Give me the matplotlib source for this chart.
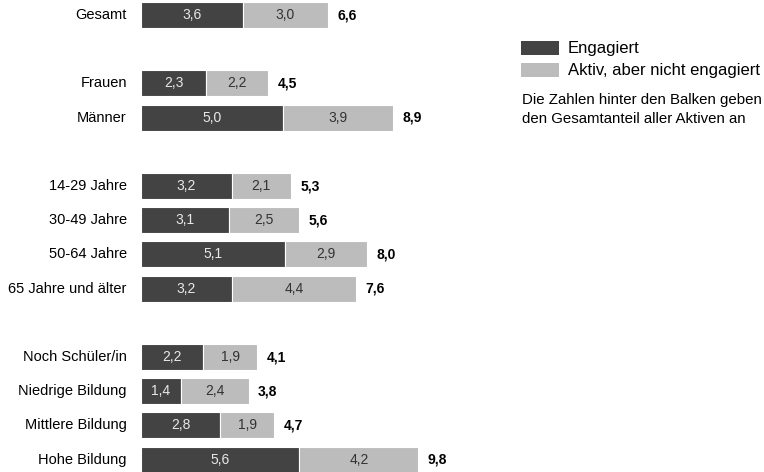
import matplotlib
matplotlib.use("Agg")
import matplotlib.pyplot as plt
from matplotlib.patches import Rectangle

plt.rcParams['font.family'] = ['Liberation Sans', 'DejaVu Sans']

categories = ["Gesamt", "Frauen", "Männer", "14-29 Jahre", "30-49 Jahre", "50-64 Jahre",
              "65 Jahre und älter", "Noch Schüler/in", "Niedrige Bildung",
              "Mittlere Bildung", "Hohe Bildung"]
engagiert = [3.6, 2.3, 5.0, 3.2, 3.1, 5.1, 3.2, 2.2, 1.4, 2.8, 5.6]
aktiv = [3.0, 2.2, 3.9, 2.1, 2.5, 2.9, 4.4, 1.9, 2.4, 1.9, 4.2]
gesamt = [6.6, 4.5, 8.9, 5.3, 5.6, 8.0, 7.6, 4.1, 3.8, 4.7, 9.8]
positions = [0, 2, 3, 5, 6, 7, 8, 10, 11, 12, 13]

dark = "#434343"
light = "#bcbcbc"

fig = plt.figure(figsize=(7.64, 4.72), dpi=100)
ax = fig.add_axes([141/764, 0, 1 - 141/764, 1])
ax.set_xlim(0, (764 - 141) / 28.3)
ax.set_ylim(13.36, -0.44)
ax.axis('off')

h = 0.76
ax.barh(positions, engagiert, height=h, color=dark, edgecolor='white', linewidth=0.8)
ax.barh(positions, aktiv, left=engagiert, height=h, color=light, edgecolor='white', linewidth=0.8)

fs = 10
for y, e, a, g, c in zip(positions, engagiert, aktiv, gesamt, categories):
    ax.text(e / 2, y, f"{e:.1f}".replace('.', ','), ha='center', va='center', color='#e8e8e8', fontsize=fs)
    ax.text(e + a / 2, y, f"{a:.1f}".replace('.', ','), ha='center', va='center', color='#333333', fontsize=fs)
    ax.text(g + 0.33, y, f"{g:.1f}".replace('.', ','), ha='left', va='center', color='black',
            fontsize=fs, fontweight='bold')
    ax.text(-0.5, y, c, ha='right', va='center', color='black', fontsize=fs + 0.5)

# legend
fig.patches.append(Rectangle((521/764, 1 - 55/472), 38/764, 14/472, transform=fig.transFigure,
                             facecolor=dark, edgecolor='none'))
fig.patches.append(Rectangle((521/764, 1 - 77/472), 38/764, 14/472, transform=fig.transFigure,
                             facecolor=light, edgecolor='none'))
fig.text(568/764, 1 - 48/472, "Engagiert", ha='left', va='center', fontsize=12)
fig.text(568/764, 1 - 70/472, "Aktiv, aber nicht engagiert", ha='left', va='center', fontsize=12)
fig.text(522/764, 1 - 100/472, "Die Zahlen hinter den Balken geben", ha='left', va='center', fontsize=10.8)
fig.text(522/764, 1 - 119/472, "den Gesamtanteil aller Aktiven an", ha='left', va='center', fontsize=10.8)

fig.savefig("out.png", dpi=100, facecolor='white')
